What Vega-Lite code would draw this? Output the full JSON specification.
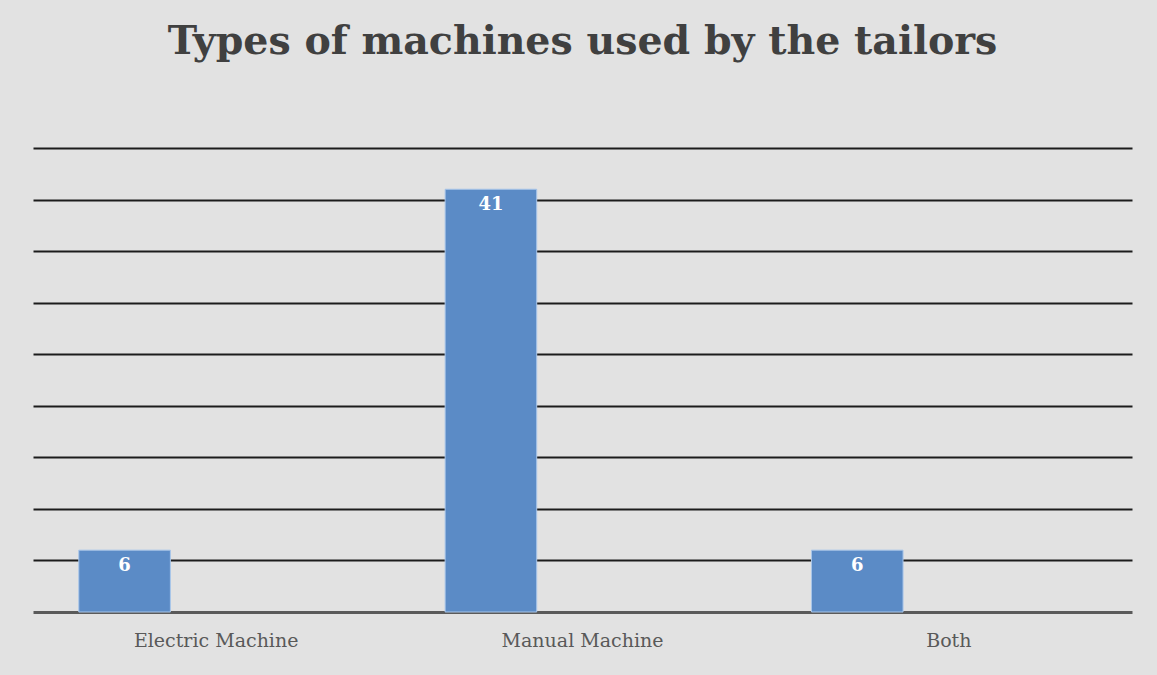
{
  "$schema": "https://vega.github.io/schema/vega-lite/v6.json",
  "autosize": {"type": "none"},
  "width": 1099,
  "height": 464,
  "padding": {"left": 33, "top": 148, "right": 25, "bottom": 63},
  "background": "#e2e2e2",
  "title": {
    "text": "Types of machines used by the tailors",
    "anchor": "middle",
    "font": "DejaVu Serif",
    "fontSize": 39.5,
    "fontWeight": "bold",
    "color": "#404040",
    "offset": 86
  },
  "config": {
    "view": {"stroke": null},
    "axis": {"labelFont": "DejaVu Serif", "labelColor": "#595959"}
  },
  "data": {
    "values": [
      {"machine": "Electric Machine", "series": "Tailors", "count": 6},
      {"machine": "Manual Machine", "series": "Tailors", "count": 41},
      {"machine": "Both", "series": "Tailors", "count": 6}
    ]
  },
  "encoding": {
    "x": {
      "field": "machine",
      "type": "nominal",
      "sort": null,
      "scale": {"paddingInner": 0.25, "paddingOuter": 0.125},
      "axis": {
        "title": null,
        "labelAngle": 0,
        "labelFontSize": 19,
        "labelPadding": 19,
        "ticks": false,
        "domainColor": "#5a5a5a",
        "domainWidth": 3
      }
    },
    "xOffset": {
      "field": "series",
      "scale": {"domain": ["Tailors", "Slot 2", "Slot 3"], "paddingInner": 0, "paddingOuter": 0}
    },
    "y": {
      "field": "count",
      "type": "quantitative",
      "scale": {"domain": [0, 45], "nice": false},
      "axis": {
        "title": null,
        "labels": false,
        "ticks": false,
        "domain": false,
        "values": [5, 10, 15, 20, 25, 30, 35, 40, 45],
        "gridColor": "#1c1c1c",
        "gridWidth": 2,
        "gridOpacity": 1
      }
    }
  },
  "layer": [
    {
      "mark": {"type": "bar", "fill": "#5b8bc6", "stroke": "#a9c6ea", "strokeWidth": 1}
    },
    {
      "mark": {
        "type": "text",
        "baseline": "middle",
        "dy": 16,
        "font": "DejaVu Serif",
        "fontWeight": "bold",
        "fontSize": 18,
        "fill": "#ffffff"
      },
      "encoding": {"text": {"field": "count", "type": "quantitative"}}
    }
  ]
}
